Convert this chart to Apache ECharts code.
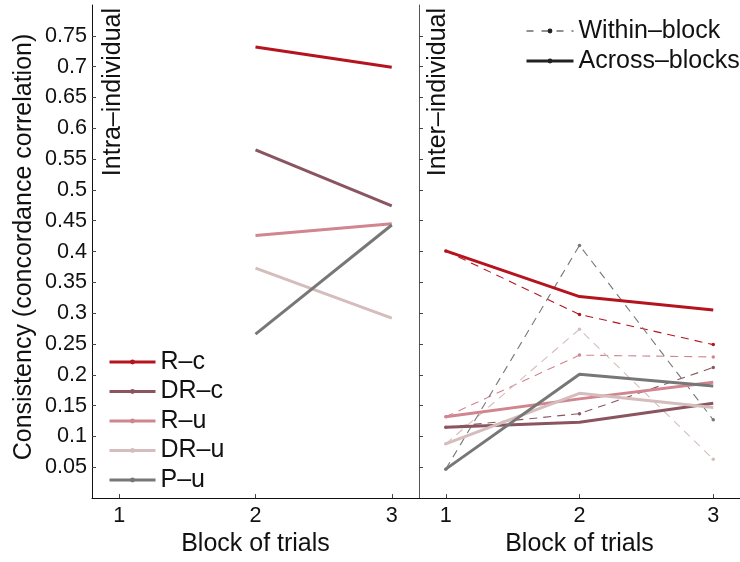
<!DOCTYPE html>
<html><head><meta charset="utf-8">
<script src="https://cdn.jsdelivr.net/npm/echarts@6/dist/echarts.min.js"></script>
<style>html,body{margin:0;padding:0;background:#fff}#c{width:740px;height:562px}</style>
</head><body><div id="c"></div>
<script>
const blocks = [1, 2, 3];
const groups = ['R–c', 'DR–c', 'R–u', 'DR–u', 'P–u'];
const colors = ['#b5141f', '#8a5560', '#d0858f', '#d4bdbc', '#777777'];
const yTickValues = [0.05,0.1,0.15,0.2,0.25,0.3,0.35,0.4,0.45,0.5,0.55,0.6,0.65,0.7,0.75];
const yTickLabels = ['0.05','0.1','0.15','0.2','0.25','0.3','0.35','0.4','0.45','0.5','0.55','0.6','0.65','0.7','0.75'];
// Intra-individual (left panel), blocks 2-3
const intraRc = [null, 0.732, 0.699];
const intraDRc = [null, 0.565, 0.474];
const intraRu = [null, 0.426, 0.445];
const intraDRu = [null, 0.373, 0.292];
const intraPu = [null, 0.266, 0.443];
// Inter-individual, across-blocks (solid)
const acrossRc = [0.401, 0.327, 0.305];
const acrossDRc = [0.115, 0.123, 0.154];
const acrossRu = [0.132, 0.161, 0.188];
const acrossDRu = [0.088, 0.170, 0.147];
const acrossPu = [0.047, 0.201, 0.182];
// Inter-individual, within-block (dashed)
const withinRc = [0.401, 0.298, 0.249];
const withinDRc = [0.115, 0.137, 0.212];
const withinRu = [0.132, 0.232, 0.229];
const withinDRu = [0.088, 0.274, 0.063];
const withinPu = [0.047, 0.410, 0.127];

const intra = [intraRc, intraDRc, intraRu, intraDRu, intraPu];
const across = [acrossRc, acrossDRc, acrossRu, acrossDRu, acrossPu];
const within = [withinRc, withinDRc, withinRu, withinDRu, withinPu];

const FONT = 'Liberation Sans';
const pts = arr => blocks.map((b, i) => [b, arr[i]]).filter(p => p[1] !== null);

const series = [];
intra.forEach((arr, k) => series.push({
  name: groups[k], type: 'line', xAxisIndex: 0, yAxisIndex: 0, data: pts(arr),
  symbol: 'none', lineStyle: {color: colors[k], width: 3}, itemStyle: {color: colors[k]},
  silent: true, animation: false, z: 3
}));
within.forEach((arr, k) => series.push({
  name: groups[k], type: 'line', xAxisIndex: 1, yAxisIndex: 1, data: pts(arr),
  symbol: 'circle', symbolSize: 3.5, lineStyle: {color: colors[k], width: 1.1, type: [8, 6]},
  itemStyle: {color: colors[k]}, silent: true, animation: false, z: 2
}));
across.forEach((arr, k) => series.push({
  name: groups[k], type: 'line', xAxisIndex: 1, yAxisIndex: 1, data: pts(arr),
  symbol: 'none', lineStyle: {color: colors[k], width: 3}, itemStyle: {color: colors[k]},
  silent: true, animation: false, z: 3
}));
series.push({name: 'Within–block', type: 'line', xAxisIndex: 1, yAxisIndex: 1, data: [],
  symbol: 'circle', symbolSize: 3, lineStyle: {color: '#222', width: 1, type: [7, 8]}, itemStyle: {color: '#222'}});
series.push({name: 'Across–blocks', type: 'line', xAxisIndex: 1, yAxisIndex: 1, data: [],
  symbol: 'none', lineStyle: {color: '#222', width: 3}, itemStyle: {color: '#222'}});

const xAxisBase = (gi) => ({
  type: 'value', gridIndex: gi, min: 0.8, max: 3.2,
  name: 'Block of trials', nameLocation: 'middle', nameGap: 27,
  nameTextStyle: {fontFamily: FONT, fontSize: 25, color: '#111'},
  axisLine: {show: true, lineStyle: {color: '#111', width: 1}},
  axisTick: {show: true, inside: true, length: 4, customValues: blocks, lineStyle: {color: '#444'}},
  axisLabel: {show: true, customValues: blocks, margin: 7, fontFamily: FONT, fontSize: 21.6, color: '#111',
    formatter: v => String(v)},
  splitLine: {show: false}
});
const yAxisBase = (gi, labels) => ({
  type: 'value', gridIndex: gi, min: 0, max: 0.8,
  axisLine: {show: true, lineStyle: {color: gi === 0 ? '#111' : '#555', width: 1}},
  axisTick: {show: true, inside: true, length: 4, customValues: yTickValues, lineStyle: {color: '#444'}},
  axisLabel: {show: labels, customValues: yTickValues, margin: 5, fontFamily: FONT, fontSize: 21.6, color: '#111',
    formatter: v => { const i = yTickValues.findIndex(t => Math.abs(t - v) < 1e-6); return i >= 0 ? yTickLabels[i] : ''; }},
  splitLine: {show: false}
});

const option = {
  backgroundColor: '#fff',
  animation: false,
  grid: [
    {left: 92, top: 5, width: 327, height: 500},
    {left: 419, top: 5, width: 327, height: 500}
  ],
  xAxis: [xAxisBase(0), xAxisBase(1)],
  yAxis: [yAxisBase(0, true), yAxisBase(1, false)],
  legend: [
    {data: groups, orient: 'vertical', left: 108, top: 349.5, padding: 0, itemWidth: 46, itemHeight: 6, itemGap: 4.5,
      selectedMode: false, lineStyle: {width: 'inherit'},
      textStyle: {fontFamily: FONT, fontSize: 25, lineHeight: 25, color: '#111'}},
    {data: ['Within–block', 'Across–blocks'], orient: 'vertical', left: 525, top: 18.5, padding: 0, itemWidth: 47, itemHeight: 6,
      itemGap: 5, selectedMode: false, lineStyle: {width: 'inherit'},
      textStyle: {fontFamily: FONT, fontSize: 25, lineHeight: 25, color: '#111'}}
  ],
  graphic: [
    {type: 'text', x: 101, y: 8, rotation: Math.PI / 2, silent: true,
      style: {text: 'Intra–individual', font: '25px "Liberation Sans"', fill: '#111', textAlign: 'right', textVerticalAlign: 'top'}},
    {type: 'text', x: 426, y: 8, rotation: Math.PI / 2, silent: true,
      style: {text: 'Inter–individual', font: '25px "Liberation Sans"', fill: '#111', textAlign: 'right', textVerticalAlign: 'top'}},
    {type: 'text', x: 12, y: 247, rotation: Math.PI / 2, silent: true,
      style: {text: 'Consistency (concordance correlation)', font: '25px "Liberation Sans"', fill: '#111', textAlign: 'center', textVerticalAlign: 'top'}}
  ],
  series: series
};
const chart = echarts.init(document.getElementById('c'), null, {renderer: 'canvas'});
chart.setOption(option);
</script></body></html>
